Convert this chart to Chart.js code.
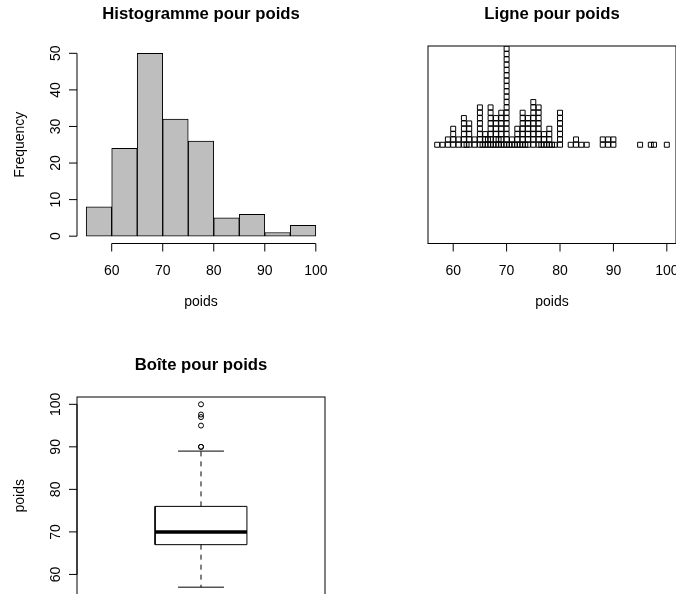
<!DOCTYPE html>
<html lang="fr">
<head>
<meta charset="utf-8">
<title>poids</title>
<script src="https://cdn.jsdelivr.net/npm/chart.js"></script>
<style>
  body { margin: 0; background: #fff; overflow: hidden; }
  #page { position: relative; width: 676px; height: 594px; overflow: hidden; background: #fff; }
  canvas { position: absolute; }
</style>
</head>
<body>
<div id="page">
  <canvas id="histo" width="351" height="351" style="left:0;top:0"></canvas>
  <canvas id="ligne" width="351" height="351" style="left:351px;top:0"></canvas>
  <canvas id="boite" width="351" height="351" style="left:0;top:351px"></canvas>
</div>
<script>
// bornes des classes et effectifs de l'histogramme
const bornesHisto = [55, 60, 65, 70, 75, 80, 85, 90, 95, 100];
const effectifsHisto = [8, 24, 50, 32, 26, 5, 6, 1, 3];

const valeursPoids = [57, 58, 59, 60, 61, 62, 62.5, 63, 64, 65,
  65.5, 66, 66.5, 67, 67.5, 68, 68.5, 69, 69.5, 70,
  70.5, 71, 71.5, 72, 72.5, 73, 73.5, 74, 75,
  76, 76.5, 77, 77.5, 78, 78.5, 79, 80,
  82, 83, 84, 85, 88, 89, 90, 95, 97, 97.6, 100];
const nombrePoids = [1, 1, 2, 4, 2, 6, 1, 5, 2, 8,
  1, 3, 2, 8, 1, 6, 2, 7, 1, 19,
  1, 2, 1, 4, 1, 7, 1, 6, 9,
  8, 1, 3, 1, 4, 1, 1, 7,
  1, 2, 1, 1, 2, 2, 2, 1, 1, 1, 1];

// boite a moustaches : moustache basse, Q1, mediane, Q3, moustache haute
const statsBoite = [57, 67, 70, 76, 89];
const pointsAberrants = [90, 90, 95, 97, 97.6, 100];

const ticksPoids = [60, 70, 80, 90, 100];
const ticksFrequence = [0, 10, 20, 30, 40, 50];

const police = '"Liberation Sans", Arial, Helvetica, sans-serif';
const marges = { left: 77, right: 26, top: 46, bottom: 107.5 };

// axes dessines "a la R" : ligne du premier au dernier tick, etiquettes tournees sur l'axe y
const axesR = {
  id: "axesR",
  afterDraw(chart, args, opts) {
    const ctx = chart.ctx;
    const zone = chart.chartArea;
    const milieu = (zone.left + zone.right) / 2;
    ctx.save();
    ctx.strokeStyle = "#000";
    ctx.fillStyle = "#000";
    ctx.lineWidth = 1;
    if (opts.cadre) {
      ctx.strokeRect(zone.left, zone.top, zone.right - zone.left, zone.bottom - zone.top);
    }
    ctx.font = "14px " + police;
    ctx.textAlign = "center";
    ctx.textBaseline = "alphabetic";

    if (opts.ticksX) {
      const ech = chart.scales.x;
      const y = zone.bottom;
      ctx.beginPath();
      ctx.moveTo(ech.getPixelForValue(opts.ticksX[0]), y);
      ctx.lineTo(ech.getPixelForValue(opts.ticksX[opts.ticksX.length - 1]), y);
      opts.ticksX.forEach((v) => {
        const x = ech.getPixelForValue(v);
        ctx.moveTo(x, y);
        ctx.lineTo(x, y + 8);
      });
      ctx.stroke();
      opts.ticksX.forEach((v) => ctx.fillText(String(v), ech.getPixelForValue(v), y + 31.5));
    }

    if (opts.ticksY) {
      const ech = chart.scales.y;
      const x = zone.left;
      ctx.beginPath();
      ctx.moveTo(x, ech.getPixelForValue(opts.ticksY[0]));
      ctx.lineTo(x, ech.getPixelForValue(opts.ticksY[opts.ticksY.length - 1]));
      opts.ticksY.forEach((v) => {
        const y = ech.getPixelForValue(v);
        ctx.moveTo(x, y);
        ctx.lineTo(x - 8, y);
      });
      ctx.stroke();
      opts.ticksY.forEach((v) => {
        ctx.save();
        ctx.translate(x - 17.5, ech.getPixelForValue(v));
        ctx.rotate(-Math.PI / 2);
        ctx.fillText(String(v), 0, 0);
        ctx.restore();
      });
    }

    if (opts.titreX) ctx.fillText(opts.titreX, milieu, zone.bottom + 62);
    if (opts.titreY) {
      ctx.save();
      ctx.translate(zone.left - 53, (zone.top + zone.bottom) / 2);
      ctx.rotate(-Math.PI / 2);
      ctx.fillText(opts.titreY, 0, 0);
      ctx.restore();
    }
    ctx.font = "bold 16.7px " + police;
    ctx.fillText(opts.titre, milieu, 19);
    ctx.restore();
  },
};

function optionsDeBase(axes, echelles) {
  return {
    responsive: false,
    maintainAspectRatio: false,
    animation: false,
    events: [],
    layout: { padding: marges },
    plugins: { legend: { display: false }, tooltip: { enabled: false }, axesR: axes },
    scales: echelles,
  };
}

// histogramme
const barres = effectifsHisto.map((n, i) => ({
  x: (bornesHisto[i] + bornesHisto[i + 1]) / 2,
  y: n,
}));

new Chart(document.getElementById("histo"), {
  type: "bar",
  data: {
    datasets: [{
      data: barres,
      backgroundColor: "#BEBEBE",
      borderColor: "#000",
      borderWidth: 1,
      borderSkipped: false,
      barPercentage: 1,
      categoryPercentage: 1,
    }],
  },
  options: optionsDeBase(
    { titre: "Histogramme pour poids", titreX: "poids", titreY: "Frequency", ticksX: ticksPoids, ticksY: ticksFrequence },
    {
      x: {
        type: "linear", display: false, offset: false, min: 53.2, max: 101.8,
        afterBuildTicks: (s) => { s.ticks = ticksPoids.map((v) => ({ value: v })); },
      },
      y: { type: "linear", display: false, min: -2, max: 52 },
    }
  ),
  plugins: [axesR],
});

// graphique en ligne empile (stripchart method = "stack")
const carres = [];
valeursPoids.forEach((v, i) => {
  for (let k = 0; k < nombrePoids[i]; k++) carres.push({ x: v, y: k });
});

new Chart(document.getElementById("ligne"), {
  type: "scatter",
  data: {
    datasets: [{
      data: carres,
      pointStyle: "rect",
      pointRadius: 3.5,
      borderColor: "#000",
      backgroundColor: "rgba(0,0,0,0)",
      borderWidth: 1,
    }],
  },
  options: optionsDeBase(
    { titre: "Ligne pour poids", titreX: "poids", ticksX: ticksPoids, cadre: true },
    {
      x: { type: "linear", display: false, min: 55.28, max: 101.72 },
      y: { type: "linear", display: false, min: -18.5, max: 18.5 },
    }
  ),
  plugins: [axesR],
});

// boite a moustaches
const [basMoust, q1, mediane, q3, hautMoust] = statsBoite;
const demiBoite = 0.2;
const demiCapuchon = 0.1;
const trait = { showLine: true, pointRadius: 0, borderColor: "#000", borderWidth: 1, fill: false };

new Chart(document.getElementById("boite"), {
  type: "scatter",
  data: {
    datasets: [
      { ...trait, data: [
        { x: 1 - demiBoite, y: q1 }, { x: 1 + demiBoite, y: q1 },
        { x: 1 + demiBoite, y: q3 }, { x: 1 - demiBoite, y: q3 }, { x: 1 - demiBoite, y: q1 }] },
      { ...trait, borderWidth: 3.5, data: [{ x: 1 - demiBoite, y: mediane }, { x: 1 + demiBoite, y: mediane }] },
      { ...trait, borderDash: [5, 5], data: [{ x: 1, y: q3 }, { x: 1, y: hautMoust }] },
      { ...trait, borderDash: [5, 5], data: [{ x: 1, y: q1 }, { x: 1, y: basMoust }] },
      { ...trait, data: [{ x: 1 - demiCapuchon, y: hautMoust }, { x: 1 + demiCapuchon, y: hautMoust }] },
      { ...trait, data: [{ x: 1 - demiCapuchon, y: basMoust }, { x: 1 + demiCapuchon, y: basMoust }] },
      {
        data: pointsAberrants.map((v) => ({ x: 1, y: v })),
        pointStyle: "circle", pointRadius: 2.5, borderWidth: 1,
        borderColor: "#000", backgroundColor: "rgba(0,0,0,0)",
      },
    ],
  },
  options: optionsDeBase(
    { titre: "Boîte pour poids", titreY: "poids", ticksY: ticksPoids, cadre: true },
    {
      x: { type: "linear", display: false, min: 0.46, max: 1.54 },
      y: { type: "linear", display: false, min: 55.28, max: 101.72 },
    }
  ),
  plugins: [axesR],
});
</script>
</body>
</html>
